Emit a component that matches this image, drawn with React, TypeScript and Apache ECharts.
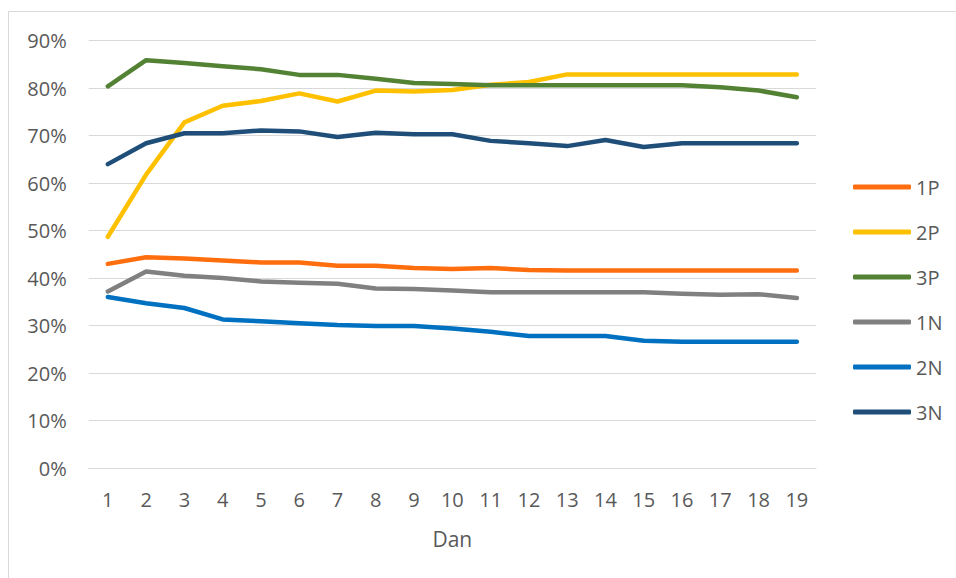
import React, { useEffect, useRef } from "react";
import * as echarts from "echarts";

const days = ["1","2","3","4","5","6","7","8","9","10","11","12","13","14","15","16","17","18","19"];
const s1P = [43.0, 44.4, 44.1, 43.7, 43.3, 43.3, 42.6, 42.6, 42.1, 41.9, 42.1, 41.7, 41.6, 41.6, 41.6, 41.6, 41.6, 41.6, 41.6];
const s2P = [48.7, 61.8, 72.8, 76.3, 77.3, 78.9, 77.2, 79.5, 79.3, 79.6, 80.7, 81.3, 82.9, 82.9, 82.9, 82.9, 82.9, 82.9, 82.9];
const s3P = [80.4, 85.9, 85.3, 84.6, 84.0, 82.8, 82.8, 82.0, 81.1, 80.9, 80.6, 80.6, 80.6, 80.6, 80.6, 80.6, 80.2, 79.5, 78.1];
const s1N = [37.2, 41.4, 40.5, 40.0, 39.3, 39.0, 38.8, 37.8, 37.7, 37.4, 37.0, 37.0, 37.0, 37.0, 37.0, 36.7, 36.5, 36.6, 35.8];
const s2N = [36.0, 34.7, 33.7, 31.3, 30.9, 30.5, 30.1, 29.9, 29.9, 29.4, 28.7, 27.8, 27.8, 27.8, 26.8, 26.6, 26.6, 26.6, 26.6];
const s3N = [64.0, 68.4, 70.5, 70.5, 71.1, 70.9, 69.7, 70.6, 70.3, 70.3, 68.9, 68.4, 67.8, 69.1, 67.6, 68.4, 68.4, 68.4, 68.4];

const seriesNames = ["1P", "2P", "3P", "1N", "2N", "3N"];
const seriesData = [s1P, s2P, s3P, s1N, s2N, s3N];
const colors = ["#FF6E0E", "#FFC000", "#548235", "#808080", "#0070C0", "#1F4E79"];
const yTicks = { min: 0, max: 90, interval: 10 };

export default function App() {
  const ref = useRef<HTMLDivElement>(null);
  useEffect(() => {
    if (!ref.current) return;
    const chart = echarts.init(ref.current, undefined, { renderer: "svg" });
    const font = "'Open Sans', 'Noto Sans', sans-serif";
    chart.setOption({
      animation: false,
      backgroundColor: "#ffffff",
      textStyle: { fontFamily: font },
      graphic: [
        {
          type: "rect",
          shape: { x: 8.5, y: 11.5, width: 1000, height: 1000 },
          style: { fill: "none", stroke: "#d9d9d9", lineWidth: 1 },
          silent: true,
        },
      ],
      grid: { left: 88.7, right: 140, top: 40.7, bottom: 110, containLabel: false },
      legend: {
        orient: "vertical",
        left: 848,
        top: 172,
        itemWidth: 58,
        itemHeight: 5,
        itemGap: 25,
        icon: "roundRect",
        data: seriesNames,
        textStyle: { color: "#595959", fontSize: 20, fontFamily: font, lineHeight: 20 },
      },
      xAxis: {
        type: "category",
        data: days,
        boundaryGap: true,
        name: "Dan",
        nameLocation: "middle",
        nameGap: 60,
        nameTextStyle: { color: "#595959", fontSize: 21, fontFamily: font },
        axisLine: { lineStyle: { color: "#d9d9d9", width: 1 } },
        axisTick: { show: false },
        axisLabel: { color: "#595959", fontSize: 20, margin: 21, fontFamily: font, interval: 0 },
        splitLine: { show: false },
      },
      yAxis: {
        type: "value",
        min: yTicks.min,
        max: yTicks.max,
        interval: yTicks.interval,
        axisLine: { show: false },
        axisTick: { show: false },
        axisLabel: { color: "#595959", fontSize: 20, margin: 22, fontFamily: font, formatter: "{value}%" },
        splitLine: { lineStyle: { color: "#d9d9d9", width: 1 } },
      },
      series: seriesNames.map((name, i) => ({
        name,
        type: "line",
        data: seriesData[i],
        symbol: "none",
        smooth: false,
        color: colors[i],
        lineStyle: { color: colors[i], width: 4.5, cap: "round", join: "round" },
        itemStyle: { color: colors[i] },
      })),
    });
    return () => chart.dispose();
  }, []);
  return (
    <div
      ref={ref}
      style={{ position: "fixed", left: 0, top: 0, width: 956, height: 578, background: "#fff" }}
    />
  );
}
